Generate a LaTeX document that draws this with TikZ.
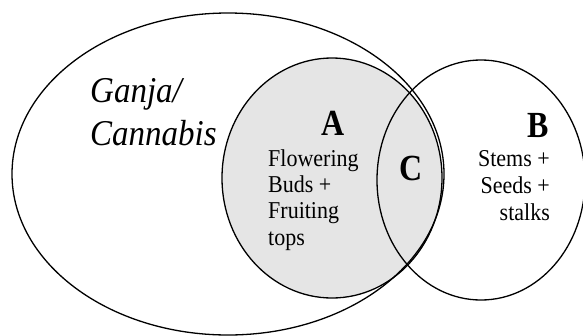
\documentclass[tikz,border=0pt]{standalone}
\usepackage{fontspec}
\setmainfont{Liberation Serif}
\newcommand{\tallA}[1]{\scalebox{1}[1.1]{#1}}
\newcommand{\tallB}[1]{\scalebox{1}[1.15]{#1}}
\begin{document}
\begin{tikzpicture}[x=1pt,y=-1pt,
  outline/.style={draw=black,line width=1.3pt},
  body/.style={inner sep=0pt,font=\fontsize{22}{22}\selectfont},
  letter/.style={inner sep=0pt,font=\fontsize{32}{32}\selectfont\bfseries},
  title/.style={inner sep=0pt,font=\fontsize{33}{33}\selectfont\itshape}]
\useasboundingbox (0,0) rectangle (583,335);
% shaded set A
\fill[gray!20] (332,178) ellipse [x radius=110, y radius=120];
% outlines
\draw[outline] (228,174) ellipse [x radius=216, y radius=161];
\draw[outline] (332,178) ellipse [x radius=110, y radius=120];
\draw[outline] (481,180) ellipse [x radius=104, y radius=120];
% texts
\node[title,anchor=base west] (g1) at (90,102) {\tallA{Ganja/}};
\node[title,anchor=base west] (g2) at (90,145) {\tallA{Cannabis}};
\node[letter,anchor=base west] (la) at (321,135) {\tallB{A}};
\node[letter,anchor=base west] (lb) at (527,137) {\tallB{B}};
\node[letter,anchor=base west] (lc) at (399,180) {\tallB{C}};
\node[body,anchor=base west] (a1) at (268,166) {\tallA{Flowering}};
\node[body,anchor=base west] (a2) at (268,192) {\tallA{Buds +}};
\node[body,anchor=base west] (a3) at (268,218) {\tallA{Fruiting}};
\node[body,anchor=base west] (a4) at (268,245) {\tallA{tops}};
\node[body,anchor=base east] (b1) at (550,166) {\tallA{Stems +}};
\node[body,anchor=base east] (b2) at (550,193) {\tallA{Seeds +}};
\node[body,anchor=base east] (b3) at (550,220) {\tallA{stalks}};
\end{tikzpicture}
\end{document}
